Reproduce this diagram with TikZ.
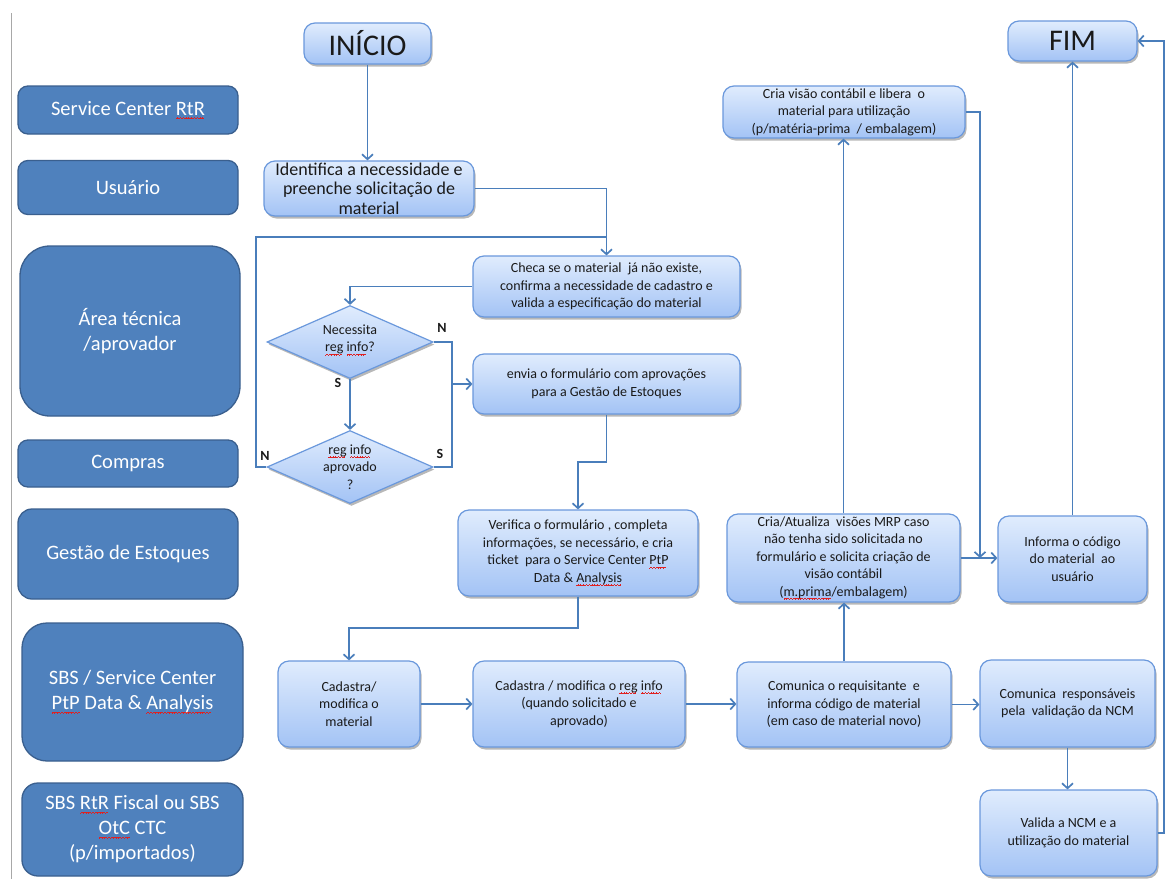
\documentclass[tikz,border=0pt]{standalone}
\usepackage{fontspec}
\setmainfont{Carlito}
\usetikzlibrary{arrows.meta,shapes.geometric,shadows}
\definecolor{lanefill}{HTML}{4F81BD}
\definecolor{laneedge}{HTML}{3A5F8E}
\definecolor{boxtop}{HTML}{E0ECFD}
\definecolor{boxbot}{HTML}{A3C3F5}
\definecolor{boxedge}{HTML}{6A98DC}
\definecolor{linec}{HTML}{4A7EBB}
\definecolor{txt}{HTML}{1A1A1A}
\definecolor{spell}{HTML}{E02020}
\definecolor{sidegray}{HTML}{A8A8A8}
\newcommand\wavestep{\rule[-3.7pt]{0.7pt}{0.7pt}\rule[-3.1pt]{0.7pt}{0.7pt}\rule[-2.5pt]{0.7pt}{0.7pt}\rule[-3.1pt]{0.7pt}{0.7pt}}
\newcommand\wv[2]{\leavevmode\setbox0\hbox{#2}\rlap{\color{spell}\leaders\hbox{\wavestep}\hskip\wd0\relax}\box0\relax}
\begin{document}
\begin{tikzpicture}[x=1pt,y=-1pt,
  lane/.style={draw=laneedge, line width=1.3pt, fill=lanefill, rounded corners=10pt,
    text=white, font=\fontsize{20.5}{25}\selectfont, align=center, inner sep=2pt},
  pbox/.style={draw=boxedge, line width=1.2pt, top color=boxtop, bottom color=boxbot,
    rounded corners=11pt, text=txt, font=\fontsize{14}{17.5}\selectfont, align=center,
    inner sep=1pt, drop shadow={shadow xshift=1.5pt, shadow yshift=-2.5pt, opacity=0.28, fill=black}},
  diam/.style={diamond, draw=boxedge, line width=1.2pt, top color=boxtop, bottom color=boxbot,
    inner sep=0pt, minimum width=166pt, minimum height=73pt,
    drop shadow={shadow xshift=1.5pt, shadow yshift=-2.5pt, opacity=0.28, fill=black}},
  dtext/.style={text=txt, font=\fontsize{14}{17.5}\selectfont, align=center},
  ln/.style={draw=linec, line width=1.7pt},
  conn/.style={draw=linec, line width=1.7pt, -{Straight Barb[length=5pt,width=11pt]}},
  lbl/.style={text=txt, font=\fontsize{14}{16}\selectfont\bfseries}
]
\useasboundingbox (0,0) rectangle (1176,879);
\fill[white] (0,0) rectangle (1176,879);
\draw[sidegray, line width=1pt] (11,13) -- (11,879);

% lanes
\node[lane, minimum width=220pt, minimum height=48pt] (l1) at (128,110) {Service Center \wv{white}{RtR}};
\node[lane, minimum width=220pt, minimum height=54pt] (l2) at (128,187.5) {Usuário};
\node[lane, rounded corners=30pt, minimum width=220pt, minimum height=170pt] (l3) at (130,331) {Área técnica\\/aprovador};
\node[lane, minimum width=220pt, minimum height=47pt] (l4) at (128,463.5) {Compras};
\node[lane, rounded corners=14pt, minimum width=220pt, minimum height=90pt] (l5) at (128,554) {Gestão de Estoques};
\node[lane, rounded corners=25pt, minimum width=221pt, minimum height=138pt] (l6) at (132.5,692) {SBS / Service Center\\\wv{white}{PtP} Data \& \wv{white}{Analysis}};
\node[lane, rounded corners=16pt, minimum width=221pt, minimum height=93pt] (l7) at (132.5,829.5) {SBS \wv{white}{RtR} Fiscal ou SBS\\\wv{white}{OtC} CTC\\(p/importados)};

% process boxes
\node[pbox, font=\fontsize{30}{34}\selectfont, minimum width=127pt, minimum height=41pt] (inicio) at (367.5,43.5) {INÍCIO};
\node[pbox, font=\fontsize{30}{34}\selectfont, minimum width=129pt, minimum height=40pt] (fim) at (1072.5,41) {FIM};
\node[pbox, font=\fontsize{18}{19.5}\selectfont, minimum width=210pt, minimum height=55pt] (ident) at (369,188.5) {Identifica a necessidade e\\preenche solicitação de\\material};
\node[pbox, minimum width=267pt, minimum height=61pt] (checa) at (606.5,286.5) {Checa se o material \ já não existe,\\confirma a necessidade de cadastro e\\valida a especificação do material};
\node[pbox, minimum width=267pt, minimum height=60pt] (envia) at (606.5,384) {envia o formulário com aprovações\\para a Gestão de Estoques};
\node[pbox, minimum width=240pt, minimum height=86pt] (verif) at (578,553) {Verifica o formulário , completa\\informações, se necessário, e cria\\ticket \ para o Service Center \wv{txt}{PtP}\\Data \& \wv{txt}{Analysis}};
\node[pbox, minimum width=142pt, minimum height=86pt] (cad1) at (349,704) {Cadastra/\\modifica o\\material};
\node[pbox, minimum width=212pt, minimum height=86pt] (cad2) at (579,704) {Cadastra / modifica o \wv{txt}{reg} \wv{txt}{info}\\(quando solicitado e\\aprovado)};
\node[pbox, minimum width=214pt, minimum height=85pt] (com1) at (844,704.5) {Comunica o requisitante \ e\\informa código de material\\(em caso de material novo)};
\node[pbox, minimum width=175pt, minimum height=87pt] (com2) at (1067.5,703.5) {Comunica \ responsáveis\\pela \ validação da NCM};
\node[pbox, minimum width=177pt, minimum height=86pt] (valida) at (1068.5,833) {Valida a NCM e a\\utilização do material};
\node[pbox, minimum width=233pt, minimum height=88pt] (criaat) at (843.5,558) {Cria/Atualiza \ visões MRP caso\\não tenha sido solicitada no\\formulário e solicita criação de\\visão contábil\\(\wv{txt}{m.prima}/embalagem)};
\node[pbox, minimum width=149pt, minimum height=86pt] (informa) at (1072.5,559) {Informa o código\\do material \ ao\\usuário};
\node[pbox, minimum width=242pt, minimum height=52pt] (criav) at (844,112) {Cria visão contábil e libera \ o\\material para utilização\\(p/matéria-prima \ / embalagem)};

% diamonds
\node[diam] (d1) at (350,342) {};
\node[dtext] (d1t) at (350,340) {Necessita\\\wv{txt}{reg} \wv{txt}{info}?};
\node[diam] (d2) at (350,467) {};
\node[dtext] (d2t) at (350,467) {\wv{txt}{reg} \wv{txt}{info}\\aprovado\\?};

% labels
\node[lbl] (n1) at (442,328) {N};
\node[lbl] (s1) at (338,383) {S};
\node[lbl] (n2) at (265,456) {N};
\node[lbl] (s2) at (440,454) {S};

% junction coordinates
\coordinate (loopl) at (256,237);
\coordinate (loopj) at (606.5,237);
\coordinate (nj) at (452,384);
\coordinate (ev) at (578,462);
\coordinate (vc) at (0,628);
\coordinate (vr) at (1164,41);
\coordinate (cj) at (980,558);

% connectors
\draw[conn] (inicio.south) -- (inicio.south |- ident.north);
\draw[conn] (ident.east) -| (checa.north);
\draw[ln] (d2.west) -| (loopl) -- (loopj);
\draw[conn] (checa.west) -| (d1.north);
\draw[conn] (d1.south) -- (d2.north);
\draw[conn] (d1.east) -| (nj) -- (envia.west);
\draw[ln] (d2.east) -| (nj);
\draw[conn] (envia.south) |- (ev) -- (verif.north);
\draw[conn] (verif.south) -- (verif.south |- vc) -| (cad1.north);
\draw[conn] (cad1.east) -- (cad1.east -| cad2.west);
\draw[conn] (cad2.east) -- (cad2.east -| com1.west);
\draw[conn] (com1.east) -- (com1.east -| com2.west);
\draw[conn] (com1.north) -- (com1.north |- criaat.south);
\draw[conn] (com2.south) -- (com2.south |- valida.north);
\draw[conn] (valida.east) -| (vr) -- (fim.east);
\draw[conn] (criaat.north) -- (criaat.north |- criav.south);
\draw[conn] (criaat.east) -- (criaat.east -| informa.west);
\draw[conn] (criav.east) -| (cj);
\draw[conn] (informa.north) -- (informa.north |- fim.south);
\end{tikzpicture}
\end{document}
